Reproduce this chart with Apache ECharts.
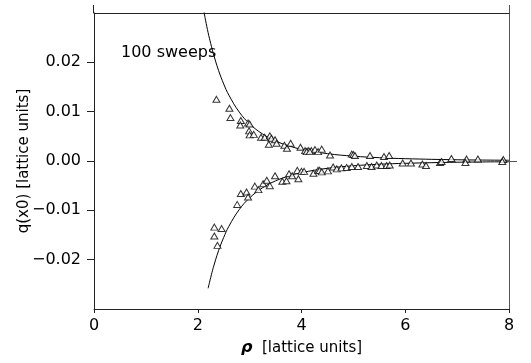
<!DOCTYPE html>
<html>
<head>
<meta charset="utf-8">
<script src="https://cdn.jsdelivr.net/npm/echarts@6/dist/echarts.min.js"></script>
<style>html,body{margin:0;padding:0;background:#fff}#c{width:531px;height:363px}</style>
</head>
<body>
<div id="c"></div>
<script>
// ---- data ----
const xTicks = [0, 2, 4, 6, 8];
const yTicks = [-0.02, -0.01, 0.00, 0.01, 0.02];

// upper branch measurements
const upperRho = [2.36, 2.61, 2.63, 2.83, 2.82, 2.97, 3.00, 2.99, 3.00, 3.08, 3.22, 3.29, 3.39, 3.42, 3.49, 3.37, 3.52, 3.67, 3.72, 3.79, 3.98, 4.07, 4.13, 4.19, 4.26, 4.32, 4.39, 4.55, 4.10, 4.16, 4.97, 5.00, 5.03, 5.32, 5.59, 5.69, 6.89, 7.18, 7.40, 7.89];
const upperQ   = [0.0125, 0.0107, 0.0088, 0.0082, 0.0073, 0.0077, 0.0075, 0.0061, 0.0053, 0.0054, 0.0048, 0.0048, 0.0051, 0.0046, 0.0043, 0.0034, 0.0036, 0.0032, 0.0026, 0.0036, 0.0028, 0.0021, 0.0021, 0.0021, 0.0023, 0.0019, 0.0024, 0.0012, 0.0019, 0.0019, 0.0014, 0.0013, 0.0011, 0.0011, 0.0009, 0.0011, 0.0005, 0.0004, 0.0004, 0.0003];

// lower branch measurements
const lowerRho = [2.32, 2.46, 2.32, 2.38, 2.76, 2.83, 2.94, 2.97, 3.10, 3.17, 3.26, 3.33, 3.39, 3.49, 3.63, 3.71, 3.76, 3.82, 3.92, 3.94, 4.00, 4.05, 4.23, 4.32, 4.35, 4.39, 4.51, 4.61, 4.68, 4.77, 4.87, 4.97, 5.09, 5.26, 5.35, 5.45, 5.54, 5.64, 5.70, 5.95, 6.11, 6.33, 6.40, 6.67, 6.70, 7.16, 7.87];
const lowerQ   = [-0.0134, -0.0137, -0.0152, -0.0171, -0.0088, -0.0066, -0.0063, -0.0073, -0.0051, -0.0058, -0.0046, -0.0039, -0.0050, -0.0030, -0.0041, -0.0040, -0.0026, -0.0030, -0.0019, -0.0036, -0.0021, -0.0021, -0.0025, -0.0019, -0.0019, -0.0022, -0.0020, -0.0012, -0.0016, -0.0014, -0.0013, -0.0011, -0.0011, -0.0009, -0.0011, -0.0008, -0.0009, -0.0009, -0.0008, -0.0004, -0.0004, -0.0006, -0.0009, -0.0003, -0.0001, -0.0003, -0.0001];

// fitted curves
const curveUpperRho = [2.12, 2.15, 2.2, 2.25, 2.3, 2.4, 2.5, 2.6, 2.8, 3.0, 3.25, 3.5, 3.75, 4.0, 4.5, 5.0, 5.5, 6.0, 7.0, 8.0];
const curveUpperQ   = [0.0302, 0.02855, 0.0260, 0.0238, 0.0218, 0.01838, 0.01562, 0.01335, 0.00992, 0.00753, 0.00547, 0.00406, 0.00308, 0.00238, 0.00149, 0.00098, 0.00067, 0.00047, 0.00025, 0.00015];
const curveLowerRho = [2.2, 2.25, 2.3, 2.4, 2.5, 2.6, 2.8, 3.0, 3.25, 3.5, 3.75, 4.0, 4.5, 5.0, 5.5, 6.0, 7.0, 8.0];
const curveLowerQ   = [-0.0258, -0.0236, -0.0216, -0.0182, -0.0155, -0.01324, -0.00984, -0.00747, -0.00542, -0.00403, -0.00306, -0.00236, -0.00148, -0.00097, -0.00066, -0.00047, -0.00025, -0.00015];

const annotation = '100 sweeps';
const yName = 'q(x0) [lattice units]';

// ---- chart ----
const zip = (a, b) => a.map((v, i) => [v, b[i]]);
const FONT = 'DejaVu Sans';
const INK = '#000';
const fmtY = v => (v < 0 ? '\u2212' : '') + Math.abs(v).toFixed(2);

const chart = echarts.init(document.getElementById('c'), null, {renderer: 'canvas'});
const triStyle = {color: '#fff', borderColor: INK, borderWidth: 1};

chart.setOption({
  animation: false,
  backgroundColor: '#fff',
  title: {
    text: annotation, left: 121, top: 45, padding: 0,
    textStyle: {fontFamily: FONT, fontSize: 16, fontWeight: 'normal', color: INK}
  },
  grid: {left: 94, right: 22, top: 13, bottom: 54, containLabel: false, outerBoundsMode: 'none'},
  xAxis: [{
    type: 'value', min: 0, max: 8, interval: 2, position: 'bottom',
    axisLine: {show: true, onZero: false, lineStyle: {color: '#222', width: 1}},
    axisTick: {show: true, inside: false, length: 4, customValues: xTicks, lineStyle: {color: '#222'}},
    axisLabel: {customValues: xTicks, margin: 9, fontFamily: FONT, fontSize: 16, color: INK},
    splitLine: {show: false},
    name: '{r|\u03c1}  [lattice units]', nameLocation: 'middle', nameGap: 31, nameMoveOverlap: false,
    nameTextStyle: {fontFamily: FONT, fontSize: 15, color: INK,
      rich: {r: {fontFamily: FONT, fontSize: 16, fontStyle: 'italic', fontWeight: 'bold', color: INK}}}
  }, {
    type: 'value', min: 0, max: 8, position: 'top',
    axisLine: {show: true, onZero: false, lineStyle: {color: '#222', width: 1}},
    axisTick: {show: false}, axisLabel: {show: false}, splitLine: {show: false}
  }],
  yAxis: [{
    type: 'value', min: -0.03, max: 0.03, interval: 0.01, position: 'left',
    axisLine: {show: true, onZero: false, lineStyle: {color: '#222', width: 1}},
    axisTick: {show: true, inside: false, length: 7, customValues: yTicks, lineStyle: {color: '#222'}},
    axisLabel: {customValues: yTicks, margin: 13, fontFamily: FONT, fontSize: 16, color: INK, formatter: fmtY},
    splitLine: {show: false},
    name: yName, nameLocation: 'middle', nameGap: 62, nameRotate: 90, nameMoveOverlap: false,
    nameTextStyle: {fontFamily: FONT, fontSize: 15, color: INK}
  }, {
    type: 'value', min: -0.03, max: 0.03, position: 'right',
    axisLine: {show: true, onZero: false, lineStyle: {color: '#555', width: 1}},
    axisTick: {show: true, inside: false, length: 8, customValues: [0], lineStyle: {color: '#555'}},
    axisLabel: {show: false}, splitLine: {show: false}
  }],
  graphic: [
    {type: 'line', shape: {x1: 93.5, y1: 5, x2: 93.5, y2: 13}, style: {stroke: '#222', lineWidth: 1}},
    {type: 'line', shape: {x1: 509.5, y1: 5, x2: 509.5, y2: 13}, style: {stroke: '#555', lineWidth: 1}}
  ],
  series: [
    {type: 'line', data: zip(curveUpperRho, curveUpperQ), smooth: 0.4, showSymbol: false,
      lineStyle: {color: INK, width: 1}, clip: true, z: 2},
    {type: 'line', data: zip(curveLowerRho, curveLowerQ), smooth: 0.4, showSymbol: false,
      lineStyle: {color: INK, width: 1}, clip: true, z: 2},
    {type: 'scatter', data: zip(upperRho, upperQ), symbol: 'triangle', symbolSize: [7, 6],
      itemStyle: triStyle, z: 3},
    {type: 'scatter', data: zip(lowerRho, lowerQ), symbol: 'triangle', symbolSize: [7, 6],
      itemStyle: triStyle, z: 3}
  ]
});
</script>
</body>
</html>
